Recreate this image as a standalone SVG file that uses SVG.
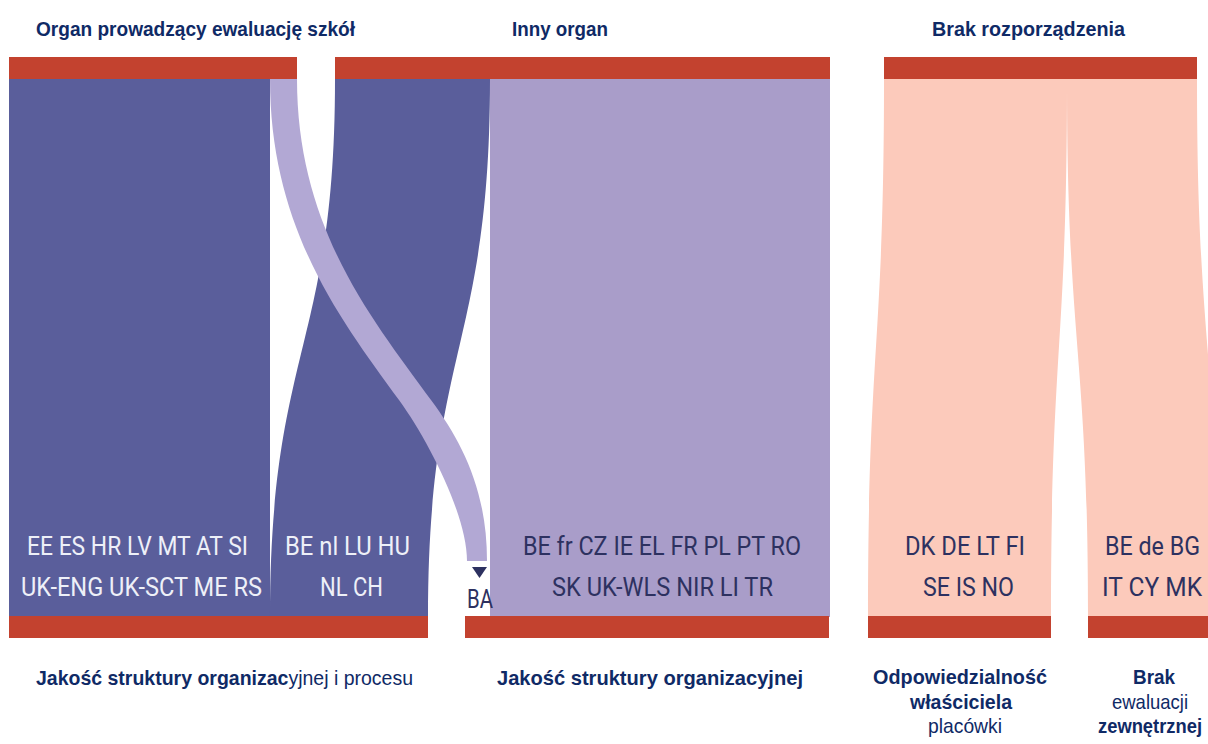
<svg xmlns="http://www.w3.org/2000/svg" width="1208" height="744" viewBox="0 0 1208 744">
<style>
.red{fill:#c3422f}
.dark{fill:#5a5e9b}
.lilac{fill:#a99dc9}
.band{fill:#b2a8d4}
.pink{fill:#fccabb}
.hdr{font-family:"Liberation Sans",Arial,sans-serif;font-size:21px;font-weight:bold;fill:#0f2a66}
.lbl{font-family:"Liberation Sans",Arial,sans-serif;font-size:21px;fill:#0f2a66;text-anchor:middle}
.st{text-anchor:start}
.b{font-weight:bold}
.code{font-family:Roboto,"Open Sans",sans-serif;font-size:25px;text-anchor:middle}
.w{fill:#eef0f8}
.n{fill:#2d3160}
</style>
<rect width="1208" height="744" fill="#ffffff"/>
<g id="connectors">
  <rect id="flow-organ-proc" class="dark" x="9" y="79" width="261" height="538"/>
  <path id="flow-inny-proc" class="dark" d="M335,79 L490,79 C490,348 428,348 428,617 L270,617 C270,348 335,348 335,79 Z"/>
  <path id="flow-organ-ba" class="band" d="M270,79 L297,79 C297,229 373,320 431,400 C462,442 487,490 487,561 L467,561 C467,515 428,440 399,400 C341,320 270,229 270,79 Z"/>
  <polygon id="ba-arrow" fill="#2d3160" points="472,567 487,567 479.5,578"/>
  <rect id="flow-inny-org" class="lilac" x="490" y="79" width="340" height="538"/>
  <path id="flow-brak-wlasc" class="pink" d="M884,79 L1067,79 C1067,348 1051,348 1051,617 L868,617 C868,348 884,348 884,79 Z"/>
  <path id="flow-brak-brak" class="pink" d="M1067,79 L1197,79 C1197,348 1218,348 1218,617 L1088,617 C1088,348 1067,348 1067,79 Z"/>
</g>
<g id="node-organ">
  <rect class="red" x="9" y="57" width="288" height="22"/>
  <text class="hdr" x="36" y="36" textLength="319" lengthAdjust="spacingAndGlyphs">Organ prowadzący ewaluację szkół</text>
</g>
<g id="node-inny">
  <rect class="red" x="335" y="57" width="495" height="22"/>
  <text class="hdr" x="512" y="36" textLength="96" lengthAdjust="spacingAndGlyphs">Inny organ</text>
</g>
<g id="node-brak-rozp">
  <rect class="red" x="884" y="57" width="313" height="22"/>
  <text class="hdr" x="932" y="36" textLength="193" lengthAdjust="spacingAndGlyphs">Brak rozporządzenia</text>
</g>
<g id="node-jakosc-proc">
  <rect class="red" x="9" y="616" width="419" height="22"/>
  <text class="lbl st" x="36" y="685" textLength="377" lengthAdjust="spacingAndGlyphs"><tspan class="b">Jakość struktury organizac</tspan>yjnej i procesu</text>
</g>
<g id="node-jakosc-org">
  <rect class="red" x="465" y="616" width="364" height="22"/>
  <text class="lbl b" x="650" y="685" textLength="306" lengthAdjust="spacingAndGlyphs">Jakość struktury organizacyjnej</text>
</g>
<g id="node-wlasciciel">
  <rect class="red" x="868" y="616" width="183" height="22"/>
  <text class="lbl b" x="960" y="684" textLength="174" lengthAdjust="spacingAndGlyphs">Odpowiedzialność</text>
  <text class="lbl b" x="961" y="709" textLength="102" lengthAdjust="spacingAndGlyphs">właściciela</text>
  <text class="lbl" x="965" y="733" textLength="74" lengthAdjust="spacingAndGlyphs">placówki</text>
</g>
<g id="node-brak-ewal">
  <rect class="red" x="1088" y="616" width="120" height="22"/>
  <text class="lbl b" x="1154" y="684" textLength="42" lengthAdjust="spacingAndGlyphs">Brak</text>
  <text class="lbl" x="1150" y="709" textLength="76" lengthAdjust="spacingAndGlyphs">ewaluacji</text>
  <text class="lbl b" x="1150" y="733" style="font-size:20px" textLength="104" lengthAdjust="spacingAndGlyphs">zewnętrznej</text>
</g>
<g id="labels">
  <text class="code w" x="137.5" y="555" textLength="221" lengthAdjust="spacingAndGlyphs">EE ES HR LV MT AT SI</text>
  <text class="code w" x="141.5" y="596" textLength="241" lengthAdjust="spacingAndGlyphs">UK-ENG UK-SCT ME RS</text>
  <text class="code w" x="347.5" y="555" textLength="125" lengthAdjust="spacingAndGlyphs">BE nl LU HU</text>
  <text class="code w" x="351.5" y="596" textLength="63" lengthAdjust="spacingAndGlyphs">NL CH</text>
  <text class="code n" x="480" y="608" textLength="26" lengthAdjust="spacingAndGlyphs">BA</text>
  <text class="code n" x="662" y="555" textLength="278" lengthAdjust="spacingAndGlyphs">BE fr CZ IE EL FR PL PT RO</text>
  <text class="code n" x="662.5" y="596" textLength="221" lengthAdjust="spacingAndGlyphs">SK UK-WLS NIR LI TR</text>
  <text class="code n" x="965" y="555" textLength="120" lengthAdjust="spacingAndGlyphs">DK DE LT FI</text>
  <text class="code n" x="968.5" y="596" textLength="91" lengthAdjust="spacingAndGlyphs">SE IS NO</text>
  <text class="code n" x="1152.5" y="555" textLength="95" lengthAdjust="spacingAndGlyphs">BE de BG</text>
  <text class="code n" x="1152" y="596" textLength="100" lengthAdjust="spacingAndGlyphs">IT CY MK</text>
</g>
</svg>
